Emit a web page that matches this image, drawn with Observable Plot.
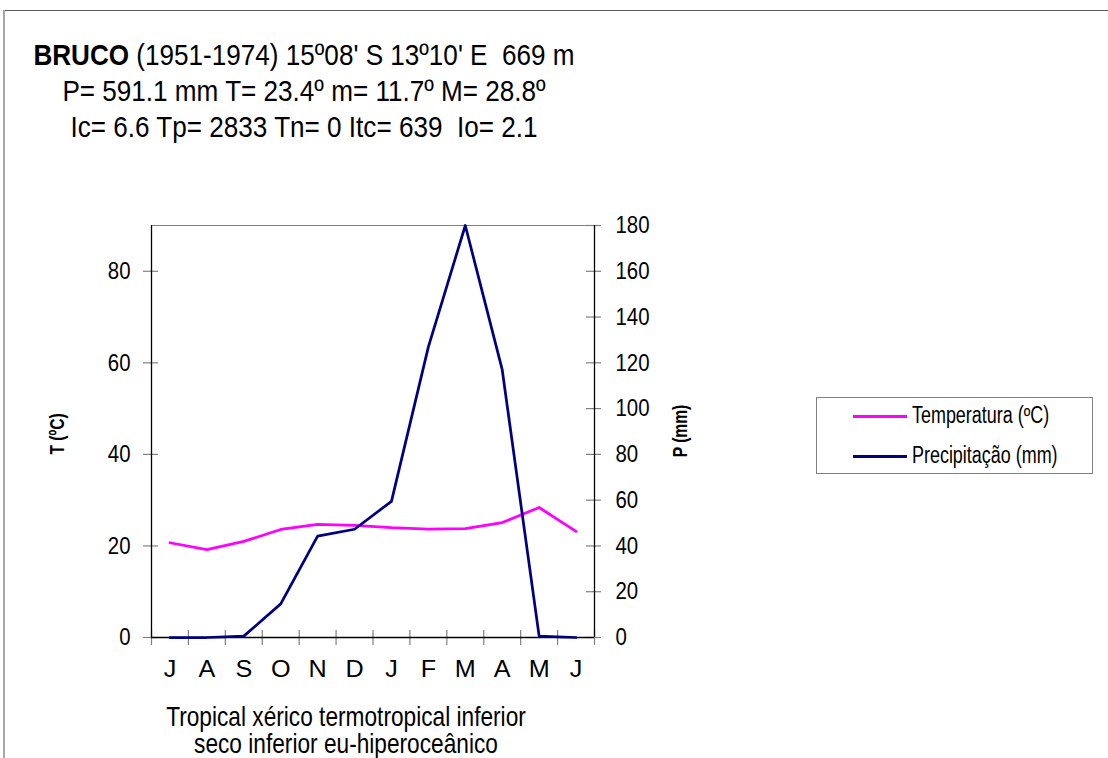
<!DOCTYPE html>
<html>
<head>
<meta charset="utf-8">
<script src="https://cdn.jsdelivr.net/npm/d3@7"></script>
<script src="https://cdn.jsdelivr.net/npm/@observablehq/plot@0.6"></script>
<style>
  html, body { margin: 0; padding: 0; background: #fff; }
  #wrap { position: relative; width: 1108px; height: 758px; overflow: hidden; font-family: "Liberation Sans", Arial, sans-serif; color: #000; }
  #wrap svg { position: absolute; left: 0; top: 0; }
  #frameTop { position: absolute; left: 3px; top: 10px; width: 1110px; height: 0; border-top: 1px solid #595959; }
  #frameLeft { position: absolute; left: 3px; top: 10px; width: 0; height: 800px; border-left: 2px solid #a6a6a6; }
  .title { position: absolute; left: -46px; width: 700px; text-align: center; font-size: 30px; line-height: 36px; white-space: pre; transform: scaleX(0.87); transform-origin: 350px 0; }
  .foot { position: absolute; left: -4px; top: 703px; width: 700px; text-align: center; font-size: 28px; line-height: 27px; white-space: pre; transform: scaleX(0.81); transform-origin: 350px 0; }
  .ylab { position: absolute; font-weight: bold; font-size: 20px; line-height: 20px; white-space: pre; transform: translate(-50%, -50%) rotate(-90deg) scaleX(0.78); }
  #legend { position: absolute; left: 816px; top: 397px; width: 277px; height: 77px; box-sizing: border-box; border: 1px solid #808080; }
  .lgline { position: absolute; width: 54px; height: 3px; }
  .lgtext { position: absolute; font-size: 23px; line-height: 30px; white-space: pre; transform: scaleX(0.78); transform-origin: 0 0; }
</style>
</head>
<body>
<div id="wrap"></div>
<script>
// ---- data ----
const months = ["J", "A", "S", "O", "N", "D", "J", "F", "M", "A", "M", "J"];
const temperature = [20.7, 19.2, 21.0, 23.6, 24.7, 24.5, 24.0, 23.7, 23.8, 25.1, 28.4, 23.2];
const precipitation = [0, 0, 0.6, 14.7, 44.3, 47.3, 59.5, 127, 180, 117, 0.6, 0];
const tTicks = [0, 20, 40, 60, 80];
const pTicks = [0, 20, 40, 60, 80, 100, 120, 140, 160, 180];
const tDomain = [0, 90];
const pDomain = [0, 180];
const seriesNames = ["Temperatura (ºC)", "Precipitação (mm)"];
const seriesColors = ["#ff00ff", "#000080"];
const titleStation = "BRUCO";
const titleLines = [
  " (1951-1974) 15º08' S 13º10' E  669 m",
  "P= 591.1 mm T= 23.4º m= 11.7º M= 28.8º",
  "Ic= 6.6 Tp= 2833 Tn= 0 Itc= 639  Io= 2.1"
];
const footLines = ["Tropical xérico termotropical inferior", "seco inferior eu-hiperoceânico"];
const axisTitles = ["T (ºC)", "P (mm)"];

// ---- build ----
const ratio = (tDomain[1] - tDomain[0]) / (pDomain[1] - pDomain[0]);
const rows = months.map((m, i) => ({ i, m, t: temperature[i], p: precipitation[i] }));
const monthBounds = d3.range(0, months.length + 1);
const nMonths = months.length;

const chart = Plot.plot({
  width: 1108,
  height: 758,
  marginLeft: 151,
  marginRight: 514,
  marginTop: 225,
  marginBottom: 121,
  x: { type: "linear", domain: [0, nMonths], axis: null },
  y: { domain: tDomain, axis: null },
  style: { fontFamily: "'Liberation Sans', Arial, sans-serif", fontSize: "24px", color: "#000", background: "transparent", overflow: "visible" },
  marks: [
    // top frame line
    Plot.ruleY([tDomain[1]], { y: (d) => d, stroke: "#808080", strokeWidth: 1 }),
    // crossing tick marks
    Plot.ruleX(monthBounds, { x: (d) => d, y1: 0, y2: 0, insetTop: -7, insetBottom: -8, stroke: "#808080", strokeWidth: 1.2 }),
    Plot.ruleY(tTicks, { y: (d) => d, x1: 0, x2: 0, insetLeft: -8, insetRight: -7, stroke: "#808080", strokeWidth: 1.2 }),
    Plot.ruleY(pTicks, { y: (d) => d * ratio, x1: nMonths, x2: nMonths, insetLeft: -8, insetRight: -7, stroke: "#808080", strokeWidth: 1.2 }),
    // tick labels
    Plot.text(tTicks, { x: 0, y: (d) => d, text: (d) => String(d), textAnchor: "end", dx: -21, fontSize: 24 }),
    Plot.text(pTicks, { x: nMonths, y: (d) => d * ratio, text: (d) => String(d), textAnchor: "start", dx: 21, fontSize: 24 }),
    Plot.text(rows, { x: (d) => d.i + 0.5, y: 0, text: "m", dy: 32, fontSize: 24 }),
    // axis lines
    Plot.ruleX([0], { x: (d) => d, stroke: "#000", strokeWidth: 1.3 }),
    Plot.ruleX([nMonths], { x: (d) => d, stroke: "#000", strokeWidth: 1.3 }),
    Plot.ruleY([0], { y: (d) => d, stroke: "#000", strokeWidth: 1.3 }),
    // series
    Plot.line(rows, { x: (d) => d.i + 0.5, y: "t", stroke: seriesColors[0], strokeWidth: 2.75 }),
    Plot.line(rows, { x: (d) => d.i + 0.5, y: (d) => d.p * ratio, stroke: seriesColors[1], strokeWidth: 2.75 })
  ]
});

// compress labels horizontally like the original
const textGroups = chart.querySelectorAll('g[aria-label="text"]');
const groupScale = [0.85, 0.85, 1.05];
textGroups.forEach((g, k) => {
  g.querySelectorAll("text").forEach((t) => {
    t.setAttribute("transform", (t.getAttribute("transform") || "") + ` scale(${groupScale[k] || 1},1)`);
  });
});

const wrap = document.getElementById("wrap");
wrap.appendChild(chart);

function addDiv(cls, id) {
  const d = document.createElement("div");
  if (cls) d.className = cls;
  if (id) d.id = id;
  wrap.appendChild(d);
  return d;
}
addDiv(null, "frameTop");
addDiv(null, "frameLeft");

// title
titleLines.forEach((line, k) => {
  const d = addDiv("title");
  d.style.top = (37 + 36 * k) + "px";
  if (k === 0) {
    const b = document.createElement("b");
    b.textContent = titleStation;
    d.appendChild(b);
    d.appendChild(document.createTextNode(line));
  } else {
    d.textContent = line;
  }
});

// footer (one block, two lines)
const foot = addDiv("foot");
foot.textContent = footLines.join("\n");

// axis titles
const yl = addDiv("ylab");
yl.style.left = "57px"; yl.style.top = "434px"; yl.textContent = axisTitles[0];
const yr = addDiv("ylab");
yr.style.left = "680px"; yr.style.top = "431px"; yr.textContent = axisTitles[1];

// legend
const lg = addDiv(null, "legend");
seriesNames.forEach((name, k) => {
  const cy = 18 + 40 * k; // relative to box top
  const ln = document.createElement("div");
  ln.className = "lgline";
  ln.style.left = (853 - 817) + "px";
  ln.style.top = (cy - 1.5) + "px";
  ln.style.background = seriesColors[k];
  lg.appendChild(ln);
  const tx = document.createElement("div");
  tx.className = "lgtext";
  tx.style.left = (912 - 817) + "px";
  tx.style.top = (cy - 16) + "px";
  tx.textContent = name;
  lg.appendChild(tx);
});
</script>
</body>
</html>
